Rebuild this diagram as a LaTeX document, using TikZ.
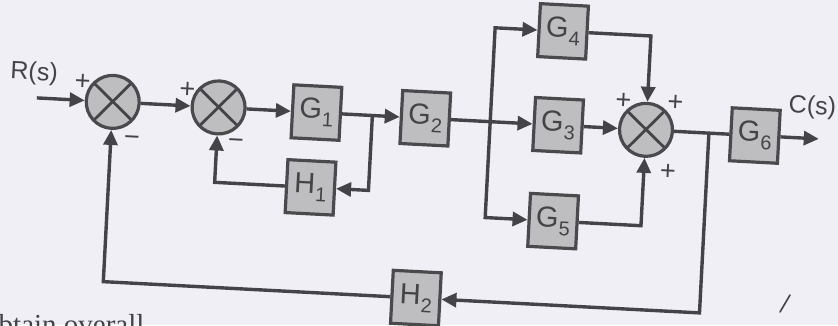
\documentclass[tikz,border=0pt]{standalone}
\usepackage{fontspec}
\setmainfont{Liberation Sans}
\newfontfamily\pageserif{Liberation Serif}
\usetikzlibrary{arrows.meta}

\definecolor{paper}{RGB}{241,239,246}
\definecolor{ink}{RGB}{68,68,72}
\definecolor{boxfill}{RGB}{190,190,192}
\definecolor{boxedge}{RGB}{74,74,76}

% block label: letter with a lowered index
\newcommand\blocklabel[2]{#1\kern0.5pt\raisebox{-8pt}{\fontsize{20}{20}\selectfont #2}}

\tikzset{
  blk/.style={draw=boxedge, line width=3.2pt, fill=boxfill,
    minimum width=48pt, minimum height=53pt, inner sep=0pt,
    font=\fontsize{29}{30}\selectfont, text=ink},
  sumj/.style={circle, draw=boxedge, line width=3.2pt, fill=boxfill,
    minimum size=53pt, inner sep=0pt,
    path picture={
      \draw[ink, line width=2.8pt]
        (path picture bounding box.south west) -- (path picture bounding box.north east)
        (path picture bounding box.north west) -- (path picture bounding box.south east);}},
  wire/.style={draw=ink, line width=3.4pt},
  flow/.style={wire, -{Triangle[length=15pt,width=14pt]}},
  sgn/.style={font=\fontsize{27}{27}\selectfont, text=ink, inner sep=0pt},
  sigtext/.style={font=\fontsize{25}{26}\selectfont, text=ink, inner sep=0pt}
}

\begin{document}
\begin{tikzpicture}[x=1pt, y=-1pt]
  \fill[paper] (0,0) rectangle (838,325);
  \useasboundingbox (0,0) rectangle (838,325);

  \begin{scope}[rotate around={-3:(419,162)}, transform shape]
    % summing junctions
    \node[sumj] (j1) at (110,118) {};
    \node[sumj] (j2) at (216,118) {};
    \node[sumj] (j3) at (644,118) {};

    % blocks
    \node[blk] (g1) at (314,118) {\blocklabel{G}{1}};
    \node[blk] (h1) at (312,193) {\blocklabel{H}{1}};
    \node[blk] (g2) at (423,118) {\blocklabel{G}{2}};
    \node[blk] (g4) at (556,24)  {\blocklabel{G}{4}};
    \node[blk] (g3) at (556,118) {\blocklabel{G}{3}};
    \node[blk] (g5) at (556,214) {\blocklabel{G}{5}};
    \node[blk] (g6) at (753,118) {\blocklabel{G}{6}};
    \node[blk] (h2) at (423,298) {\blocklabel{H}{2}};

    % free ends and branch points
    \coordinate (rin) at (34,118);
    \coordinate (cout) at (817,118);
    \coordinate (t1) at (370,118);
    \coordinate (sp) at (488,118);
    \coordinate (t2) at (707,118);

    % forward path
    \draw[flow] (rin) -- (j1);
    \draw[flow] (j1) -- (j2);
    \draw[flow] (j2) -- (g1);
    \draw[flow] (g1) -- (g2);
    \draw[wire] (g2) -- (sp);
    \draw[flow] (sp) |- (g4);
    \draw[flow] (sp) -- (g3);
    \draw[flow] (sp) |- (g5);
    \draw[flow] (g4) -| (j3);
    \draw[flow] (g3) -- (j3);
    \draw[flow] (g5) -| (j3);
    \draw[wire] (j3) -- (g6);
    \draw[flow] (g6) -- (cout);

    % feedback loops
    \draw[flow] (t1) |- (h1);
    \draw[flow] (h1) -| (j2);
    \draw[flow] (t2) |- (h2);
    \draw[flow] (h2) -| (j1);

    % signal names
    \node[sigtext] (rs) at (30,94) {R(s)};
    \node[sigtext] (cs) at (809,87) {C(s)};

    % signs at the junctions
    \node[sgn] (p1) at (79,100) {+};
    \node[sgn] (m1) at (131,156) {−};
    \node[sgn] (p2) at (184,102) {+};
    \node[sgn] (m2) at (235,154) {−};
    \node[sgn] (p3) at (620,91) {+};
    \node[sgn] (p4) at (672,90) {+};
    \node[sgn] (p5) at (668,159) {+};
  \end{scope}

  % text line of the page below, cut by the lower edge
  \begin{scope}
    \clip (0,0) rectangle (838,325);
    \node[anchor=base west, inner sep=0pt, text=ink,
      font=\pageserif\fontsize{29}{29}\selectfont] (pagetext) at (-16,334) {obtain overall};
    \draw[ink, line width=1.6pt, line cap=round] (790,295) -- (780,312);
  \end{scope}
\end{tikzpicture}
\end{document}
